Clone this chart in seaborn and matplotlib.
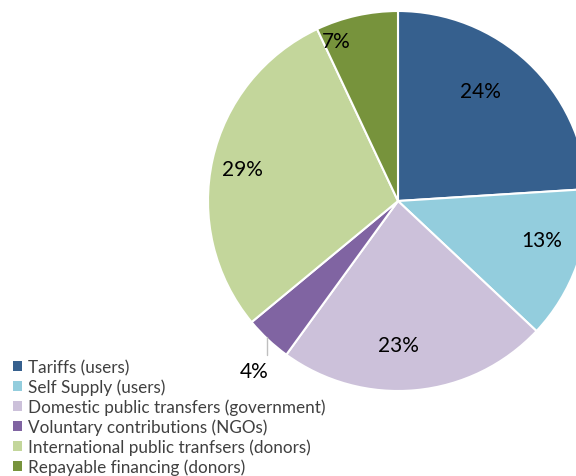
import matplotlib
matplotlib.use("Agg")
import matplotlib.pyplot as plt
import seaborn as sns
from matplotlib.patches import Patch

categories = [
    "Tariffs (users)",
    "Self Supply (users)",
    "Domestic public transfers (government)",
    "Voluntary contributions (NGOs)",
    "International public tranfsers (donors)",
    "Repayable financing (donors)",
]
shares = [24, 13, 23, 4, 29, 7]
colors = ["#36608E", "#93CDDD", "#CCC1DA", "#8064A2", "#C3D69B", "#77933C"]

# label anchor points in pixel space (x from left, y from top)
label_pos = [(480, 92), (542, 241), (398, 346), (254, 372), (242, 170), (336, 42)]

sns.set_theme(style="white")
plt.rcParams["font.family"] = ["Lato", "DejaVu Sans"]

W, H = 576, 477
fig = plt.figure(figsize=(W / 100, H / 100), dpi=100)
ax = fig.add_axes([0, 0, 1, 1])

cx, cy, r = 398, H - 202, 190
ax.pie(shares, colors=colors, startangle=90, counterclock=False,
       center=(cx, cy), radius=r, frame=True,
       wedgeprops=dict(edgecolor="white", linewidth=1.5))
ax.set_xlim(0, W)
ax.set_ylim(0, H)
ax.set_aspect("equal")
ax.axis("off")

for v, (x, y) in zip(shares, label_pos):
    ax.text(x, H - y, f"{v}%", ha="center", va="center", fontsize=15, color="black")

# leader line for the small slice
ax.plot([267, 267], [H - 338, H - 356], color="#BFBFBF", lw=1)

handles = [Patch(facecolor=c, edgecolor="none") for c in colors]
leg = ax.legend(handles, categories, loc="upper left", bbox_to_anchor=(13 / W, 1 - 360 / H),
                bbox_transform=fig.transFigure, frameon=False, fontsize=12.3,
                handlelength=0.55, handleheight=0.55, handletextpad=0.35,
                labelspacing=0.2, borderpad=0, borderaxespad=0)
for t in leg.get_texts():
    t.set_color("#404040")

fig.savefig("out.png", dpi=100)
